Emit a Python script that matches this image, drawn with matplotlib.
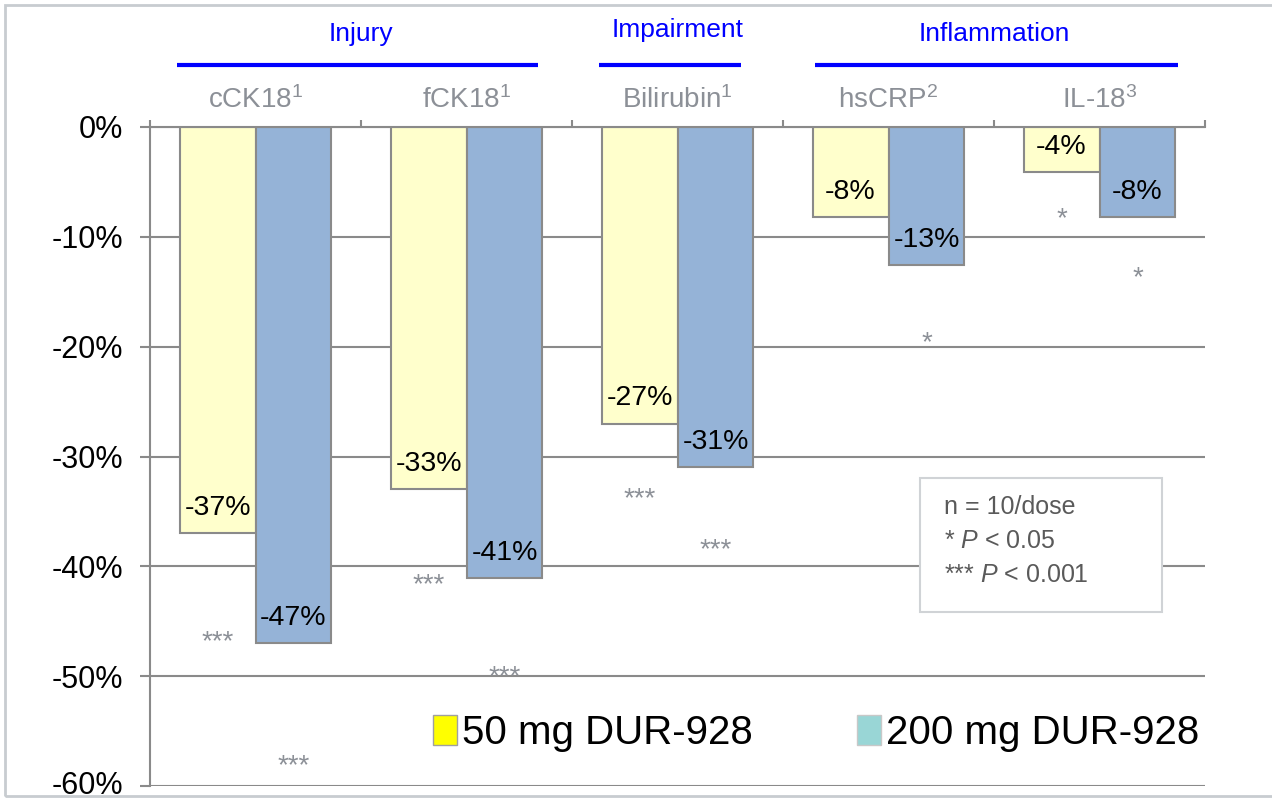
import matplotlib
matplotlib.use("Agg")
import matplotlib.pyplot as plt
import matplotlib.transforms as mtransforms
from matplotlib.patches import Patch, Rectangle
import numpy as np

plt.rcParams["font.family"] = ["Liberation Sans", "DejaVu Sans"]
plt.rcParams["mathtext.fontset"] = "custom"
plt.rcParams["mathtext.rm"] = "Liberation Sans"
plt.rcParams["mathtext.it"] = "Liberation Sans:italic"

# DATA
markers = ["cCK18$^{1}$", "fCK18$^{1}$", "Bilirubin$^{1}$", "hsCRP$^{2}$", "IL-18$^{3}$"]
dose_50 = [-37.0, -33.0, -27.0, -8.2, -4.1]
dose_200 = [-47.0, -41.1, -31.0, -12.6, -8.2]
labels_50 = ["-37%", "-33%", "-27%", "-8%", "-4%"]
labels_200 = ["-47%", "-41%", "-31%", "-13%", "-8%"]
stars_50 = ["***", "***", "***", "", "*"]
stars_200 = ["***", "***", "***", "*", "*"]
star_y_50 = [-46.1, -41.0, -33.1, None, -7.6]
star_y_200 = [-57.4, -49.3, -37.8, -18.9, -13.0]
groups = ["Injury", "Impairment", "Inflammation"]
group_span = [(-0.37, 1.34), (1.63, 2.30), (2.65, 4.37)]
yticks = [0, -10, -20, -30, -40, -50, -60]

YELLOW = "#FFFFCC"
BLUE = "#95B3D7"
GRAY = "#8A8A8A"
LABEL_GRAY = "#8C9097"

fig = plt.figure(figsize=(12.72, 7.98), dpi=100)
ax = fig.add_axes([150 / 1272, 1 - 786 / 798, 1055 / 1272, 659 / 798])

x = np.arange(len(markers))
w = 0.36
ax.bar(x - w / 2, dose_50, w, color=YELLOW, edgecolor=GRAY, linewidth=1.5, zorder=2)
ax.bar(x + w / 2, dose_200, w, color=BLUE, edgecolor=GRAY, linewidth=1.5, zorder=2)

for i in range(len(markers)):
    ax.text(x[i] - w / 2, dose_50[i] + 2.3, labels_50[i], ha="center", va="center",
            fontsize=20.5, color="black", zorder=3)
    ax.text(x[i] + w / 2, dose_200[i] + 2.3, labels_200[i], ha="center", va="center",
            fontsize=20.5, color="black", zorder=3)
    if star_y_50[i] is not None:
        ax.text(x[i] - w / 2, star_y_50[i] - 1.4, stars_50[i], ha="center", va="baseline",
                fontsize=20, color=LABEL_GRAY, zorder=3)
    ax.text(x[i] + w / 2, star_y_200[i] - 1.4, stars_200[i], ha="center", va="baseline",
            fontsize=20, color=LABEL_GRAY, zorder=3)

ax.set_xlim(-0.5, 4.5)
ax.set_ylim(-60, 0)
ax.set_yticks(yticks)
ax.set_yticklabels([f"{v}%" for v in yticks], fontsize=22)
ax.yaxis.grid(True, color=GRAY, linewidth=1.5, zorder=0)
ax.set_axisbelow(True)
ax.tick_params(axis="y", length=7, width=1.5, color=GRAY, pad=12)
# keep the lowest tick label inside the picture
last = ax.get_yticklabels()[-1]
last.set_transform(last.get_transform() + mtransforms.ScaledTranslation(0, 4 / 100, fig.dpi_scale_trans))
ax.set_xticks(np.arange(-0.5, 5, 1))
ax.xaxis.tick_top()
ax.tick_params(axis="x", direction="out", length=5, width=1.5, color=GRAY, labeltop=False)
for s in ["right", "bottom"]:
    ax.spines[s].set_visible(False)
for s in ["left", "top"]:
    ax.spines[s].set_color(GRAY)
    ax.spines[s].set_linewidth(1.5)
    ax.spines[s].set_zorder(4)

trans = mtransforms.blended_transform_factory(ax.transData, fig.transFigure)
for i, m in enumerate(markers):
    ax.text(x[i], 1 - 100 / 798, m, transform=trans, ha="center", va="center",
            fontsize=20, color=LABEL_GRAY)

group_x = [0.5, 2.0, 3.5]
group_y = [34, 30, 34]
for g, gx, gy, (a, b) in zip(groups, group_x, group_y, group_span):
    ax.text(gx, 1 - gy / 798, g, transform=trans, ha="center", va="center",
            fontsize=19, color="#0000FF")
    ax.plot([a, b], [1 - 65 / 798] * 2, transform=trans, color="#0000FF",
            linewidth=3, clip_on=False, solid_capstyle="butt")

# note box
fig.patches.append(Rectangle((920 / 1272, 1 - 612 / 798), 242 / 1272, 134 / 798,
                             transform=fig.transFigure, facecolor="white",
                             edgecolor="#D0D3D6", linewidth=1.5, zorder=5))
notes = ["n = 10/dose", "* $\\it{P}$ < 0.05", "*** $\\it{P}$ < 0.001"]
for j, t in enumerate(notes):
    fig.text(944 / 1272, 1 - (507 + 34 * j) / 798, t, ha="left", va="center",
             fontsize=18, color="#5A5A5A", zorder=6)

# legend
handles = [Patch(facecolor="#FFFF00", edgecolor="#A0A0A0", label="50 mg DUR-928"),
           Patch(facecolor="#99D6D6", edgecolor="#C8C8C8", label="200 mg DUR-928")]
fig.legend(handles=handles, loc="center", bbox_to_anchor=(816 / 1272, 1 - 733 / 798),
           ncol=2, frameon=False, fontsize=29, handlelength=0.6, handleheight=0.8,
           handletextpad=0.12, columnspacing=2.6, borderpad=0)

# figure frame
fig.patches.append(Rectangle((5 / 1272, 2 / 798), 1.0, 1 - 7 / 798, transform=fig.transFigure,
                             facecolor="none", edgecolor="#C8CCD0", linewidth=2, zorder=0))

fig.savefig("out.png", dpi=100)
